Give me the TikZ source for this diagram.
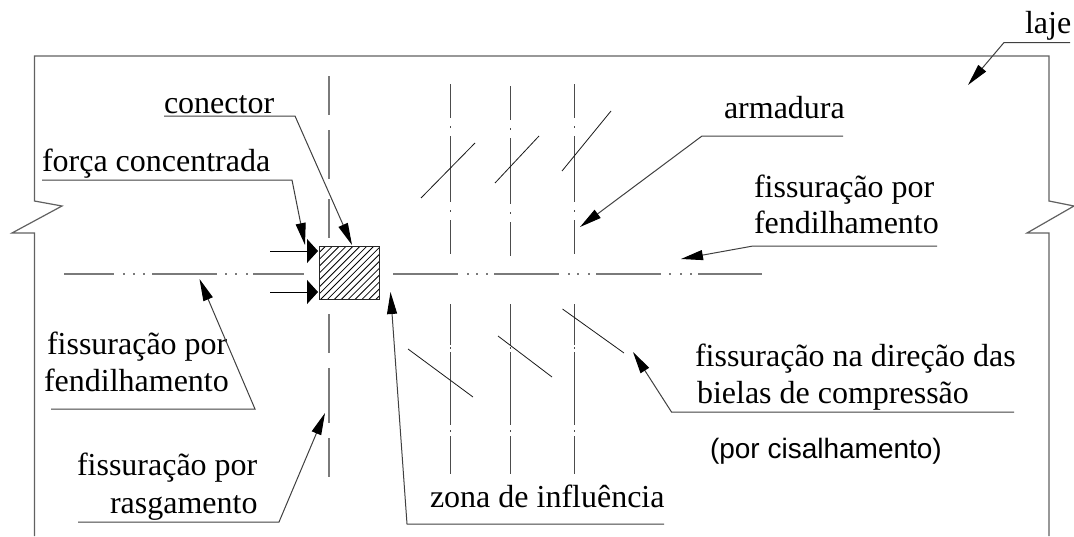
\documentclass[tikz,border=0pt]{standalone}
\usepackage{fontspec}
\setmainfont{Liberation Serif}
\newfontfamily\labsans{Liberation Sans}
\usetikzlibrary{arrows.meta}
\tikzset{
  outline/.style={draw=black!62,line width=1.2pt,line join=miter},
  axisline/.style={draw=black!52,line width=1.1pt},
  thinaxis/.style={draw=black!70,line width=0.9pt},
  crack/.style={draw=black!90,line width=0.8pt},
  leader/.style={draw=black!75,line width=1pt,-{Triangle[length=22pt,width=10pt,color=black]}},
  force/.style={draw=black,line width=0.9pt,-{Triangle[length=11pt,width=24pt]}},
  lab/.style={anchor=base west,inner sep=0pt,outer sep=0pt,font=\fontsize{32}{32}\selectfont},
  sanslab/.style={anchor=base west,inner sep=0pt,outer sep=0pt,font=\labsans\fontsize{28}{28}\selectfont},
}
\begin{document}
\begin{tikzpicture}[x=1pt,y=-1pt]
\useasboundingbox (0,0) rectangle (1074,536);
% slab outline
\draw[outline] (34.5,536) -- (34.5,233) -- (12,233) -- (62,206) -- (34.5,201) -- (34.5,56)
  -- (1049,56) -- (1049,201) -- (1074,206) -- (1027,233) -- (1049,233) -- (1049,536);
% central vertical crack
\foreach \a/\b in {76/115,130/179,199/238,314/353,368/423,438/477}
  \draw[axisline] (329,\a) -- (329,\b);
% horizontal cracks
\foreach \a/\b in {64/114,152/217,253/304,393/458,494/559,596/661,698/762}
  \draw[axisline] (\a,274) -- (\b,274);
\foreach \a in {123,133,143,225,235,246,467,476,486,568,577,588,669,680,690}
  \draw[axisline] (\a,274) -- +(1.5,0);
% reinforcement axes, upper
\foreach \x/\o in {450/0,510/2,574/0}{
  \foreach \a/\b in {84/118,136/202,220/254}
    \draw[thinaxis] (\x,\a+\o) -- (\x,\b+\o);
  \foreach \a in {126,210}
    \draw[thinaxis] (\x,\a+\o) -- +(0,1.5);
}
% reinforcement axes, lower
\foreach \x in {450,510,574}{
  \foreach \a/\b in {304/345,352/425,436/474}
    \draw[thinaxis] (\x,\a) -- (\x,\b);
  \foreach \a in {347,430}
    \draw[thinaxis] (\x,\a) -- +(0,1.5);
}
% inclined cracks
\draw[crack] (421,198) -- (475,143);
\draw[crack] (495,183) -- (539,136);
\draw[crack] (562,171) -- (611,111);
\draw[crack] (408,349) -- (473,397);
\draw[crack] (498,336) -- (552,377);
\draw[crack] (562.5,309) -- (624,353);
% connector
\begin{scope}
  \clip (319,246) rectangle (379,299);
  \foreach \k in {-9,...,9}
    \draw[black,line width=0.8pt] (319+\k*6.9,301) -- +(60,-60);
\end{scope}
\node[draw=black!85,line width=1pt,inner sep=0pt,minimum width=60pt,minimum height=53pt,anchor=north west] (conn) at (319,246) {};
% force arrows
\coordinate (f1s) at (270,251);
\coordinate (f1e) at (318,251);
\coordinate (f2s) at (270,292);
\coordinate (f2e) at (318,292);
\draw[force] (f1s) -- (f1e);
\draw[force] (f2s) -- (f2e);
% labels
\node[lab] (tconector) at (164,113) {conector};
\node[lab] (tforca) at (42,171) {força concentrada};
\node[lab] (tlaje) at (1025,33) {laje};
\node[lab] (tarm) at (724,118) {armadura};
\node[lab] (tf1a) at (754,197) {fissuração por};
\node[lab] (tf1b) at (754,233) {fendilhamento};
\node[lab] (tf2a) at (47,354) {fissuração por};
\node[lab] (tf2b) at (44,391) {fendilhamento};
\node[lab] (tr1) at (77,475) {fissuração por};
\node[lab] (tr2) at (110,513) {rasgamento};
\node[lab] (tz) at (430,507) {zona de influência};
\node[lab] (tb1) at (695,366) {fissuração na direção das};
\node[lab] (tb2) at (697,403) {bielas de compressão};
\node[sanslab] (tc) at (710,458) {(por cisalhamento)};
% leaders
\coordinate (c1) at (164,116); \coordinate (c2) at (295,116); \coordinate (c3) at (352,245);
\draw[leader] (c1) -- (c2) -- (c3);
\coordinate (p1) at (42,180); \coordinate (p2) at (292,180); \coordinate (p3) at (305,245);
\draw[leader] (p1) -- (p2) -- (p3);
\coordinate (l1) at (1070,42.5); \coordinate (l2) at (1004,42.5); \coordinate (l3) at (968,85);
\draw[leader] (l1) -- (l2) -- (l3);
\coordinate (a1) at (843,136); \coordinate (a2) at (702,136); \coordinate (a3) at (580,227);
\draw[leader] (a1) -- (a2) -- (a3);
\coordinate (g1) at (937,246); \coordinate (g2) at (753,246); \coordinate (g3) at (681,259);
\draw[leader] (g1) -- (g2) -- (g3);
\coordinate (h1) at (51,409); \coordinate (h2) at (255,409); \coordinate (h3) at (199.5,279);
\draw[leader] (h1) -- (h2) -- (h3);
\coordinate (r1) at (78,522); \coordinate (r2) at (279,522); \coordinate (r3) at (325,413);
\draw[leader] (r1) -- (r2) -- (r3);
\coordinate (z1) at (664,524); \coordinate (z2) at (407,524); \coordinate (z3) at (390.5,292);
\draw[leader] (z1) -- (z2) -- (z3);
\coordinate (b1) at (1014,412); \coordinate (b2) at (671.5,412); \coordinate (b3) at (633,352);
\draw[leader] (b1) -- (b2) -- (b3);
\end{tikzpicture}
\end{document}
